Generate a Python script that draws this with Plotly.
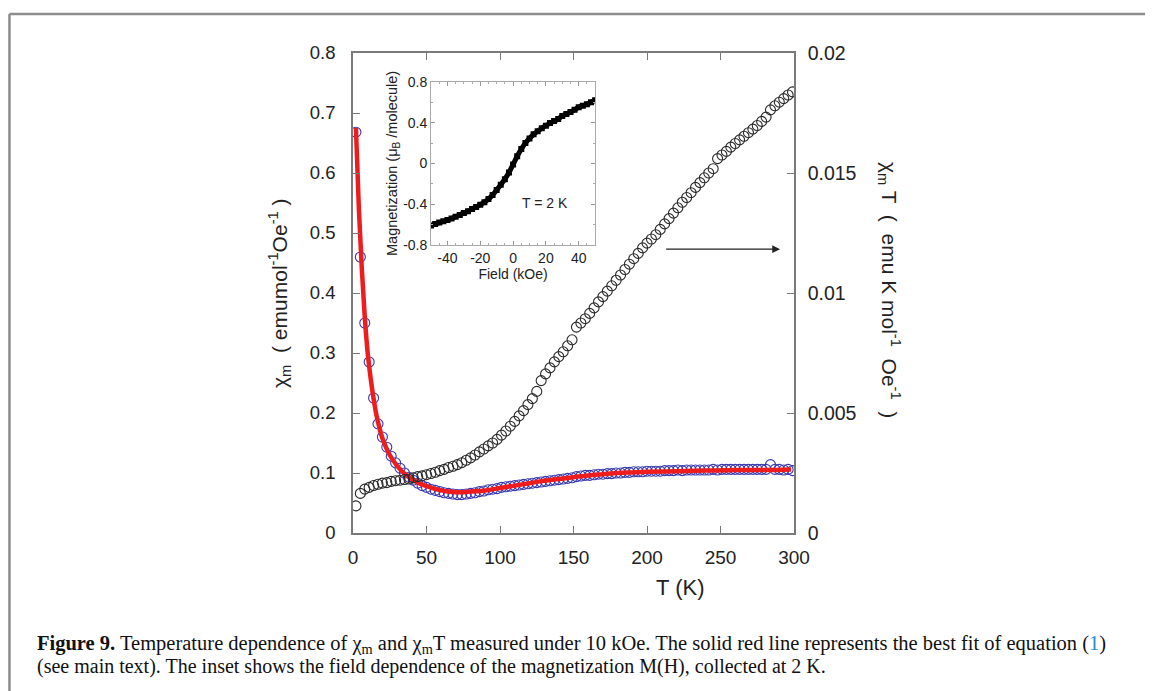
import plotly.graph_objects as go

# ---------------- data ----------------
T = [2, 5, 8, 11, 14, 17, 20, 23, 26, 29, 32, 35, 38, 41, 44, 47, 50, 53, 56, 59,
     62, 65, 68, 71, 74, 77, 80, 83, 86, 89, 92, 95, 98, 101, 104, 107, 110, 113, 116, 119,
     122, 125, 128, 131, 134, 137, 140, 143, 146, 149, 152, 155, 158, 161, 164, 167, 170, 173, 176, 179,
     182, 185, 188, 191, 194, 197, 200, 203, 206, 209, 212, 215, 218, 221, 224, 227, 230, 233, 236, 239,
     242, 245, 248, 251, 254, 257, 260, 263, 266, 269, 272, 275, 278, 281, 284, 287, 290, 293, 296, 299]

chi_m = [0.668, 0.46, 0.35, 0.285, 0.225, 0.182, 0.16, 0.143, 0.128, 0.117, 0.108, 0.1, 0.093, 0.088, 0.083, 0.079, 0.076, 0.073, 0.071, 0.069,
         0.067, 0.066, 0.065, 0.064, 0.064, 0.065, 0.066, 0.067, 0.069, 0.07, 0.072, 0.073, 0.074, 0.076, 0.077, 0.078, 0.079, 0.08, 0.081, 0.082,
         0.083, 0.084, 0.085, 0.086, 0.087, 0.088, 0.089, 0.09, 0.091, 0.092, 0.094, 0.095, 0.096, 0.096, 0.097, 0.098, 0.098, 0.099, 0.099, 0.1,
         0.1, 0.101, 0.101, 0.102, 0.102, 0.102, 0.103, 0.103, 0.103, 0.103, 0.104, 0.104, 0.104, 0.105, 0.104, 0.105, 0.105, 0.105, 0.105, 0.105,
         0.105, 0.106, 0.105, 0.106, 0.106, 0.106, 0.106, 0.106, 0.106, 0.106, 0.106, 0.106, 0.106, 0.106, 0.114, 0.106, 0.106, 0.105, 0.106, 0.104]

chi_mT = [0.00113, 0.00165, 0.00183, 0.0019, 0.00198, 0.00203, 0.00208, 0.0021, 0.00215, 0.00218, 0.0022, 0.00223, 0.00225, 0.0023, 0.00235, 0.00238, 0.00243, 0.00248, 0.00253, 0.0026,
          0.00265, 0.00273, 0.00278, 0.00285, 0.00293, 0.00303, 0.00313, 0.00325, 0.00338, 0.0035, 0.00363, 0.00375, 0.0039, 0.00408, 0.00425, 0.00445, 0.00465, 0.00488, 0.0051, 0.00535,
          0.0056, 0.0059, 0.00635, 0.00663, 0.00688, 0.00713, 0.00735, 0.00755, 0.0078, 0.00805, 0.00858, 0.00875, 0.00893, 0.00915, 0.00938, 0.00963, 0.00985, 0.01008, 0.0103, 0.01053,
          0.01075, 0.01098, 0.0112, 0.01143, 0.01165, 0.01188, 0.01208, 0.01225, 0.01243, 0.01265, 0.01288, 0.0131, 0.01333, 0.01355, 0.01378, 0.01398, 0.01418, 0.0144, 0.0146, 0.0148,
          0.015, 0.01518, 0.0156, 0.01575, 0.0159, 0.01608, 0.01623, 0.01638, 0.01653, 0.01668, 0.01683, 0.01698, 0.01715, 0.01733, 0.01763, 0.0178, 0.01795, 0.0181, 0.01825, 0.01838]

T_fit = [2, 4, 6, 8, 10, 12, 14, 16, 18, 20, 25, 30, 35, 40, 45, 50, 55, 60, 65, 70,
         75, 80, 90, 100, 110, 120, 130, 140, 150, 160, 170, 180, 190, 200, 220, 240, 260, 280, 298]
chi_fit = [0.675, 0.54, 0.44, 0.36, 0.3, 0.258, 0.224, 0.196, 0.175, 0.158, 0.13, 0.112, 0.099, 0.09, 0.083, 0.078, 0.074, 0.071, 0.069, 0.068,
           0.068, 0.069, 0.071, 0.075, 0.079, 0.083, 0.087, 0.09, 0.093, 0.096, 0.098, 0.1, 0.101, 0.102, 0.103, 0.104, 0.105, 0.105, 0.106]

H_inset = [-50, -47.5, -45, -42.5, -40, -37.5, -35, -32.5, -30, -27.5, -25, -22.5, -20, -17.5, -15, -12.5, -10, -7.5, -5, -2.5,
           0, 2.5, 5, 7.5, 10, 12.5, 15, 17.5, 20, 22.5, 25, 27.5, 30, 32.5, 35, 37.5, 40, 42.5, 45, 47.5, 50]
M_inset = [-0.61, -0.595, -0.58, -0.568, -0.555, -0.54, -0.522, -0.505, -0.487, -0.468, -0.448, -0.427, -0.405, -0.38, -0.35, -0.31, -0.26, -0.21, -0.155, -0.09,
           -0.01, 0.07, 0.14, 0.2, 0.245, 0.285, 0.315, 0.345, 0.37, 0.395, 0.415, 0.435, 0.465, 0.485, 0.505, 0.525, 0.55, 0.565, 0.58, 0.6, 0.62]

y_left_ticks = [0, 0.1, 0.2, 0.3, 0.4, 0.5, 0.6, 0.7, 0.8]
y_right_ticks = [0, 0.005, 0.01, 0.015, 0.02]
y_right_labels = ["0", "0.005", "0.01", "0.015", "0.02"]
x_ticks = [0, 50, 100, 150, 200, 250, 300]
inset_x_ticks = [-40, -20, 0, 20, 40]
inset_x_labels = ["-40", "-20", "0", "20", "40"]
inset_y_ticks = [-0.8, -0.4, 0, 0.4, 0.8]
inset_y_labels = ["-0.8", "-0.4", "0", "0.4", "0.8"]

SANS = "Liberation Sans, Arial, sans-serif"
SERIF = "Liberation Serif, Times New Roman, serif"
AX = "#7a7a7a"

fig = go.Figure()

fig.add_trace(go.Scatter(x=T, y=chi_mT, yaxis="y2", mode="markers",
                         marker=dict(symbol="circle-open", size=10, color="#2a2a2a", line=dict(width=1.1)),
                         showlegend=False))
fig.add_trace(go.Scatter(x=T, y=chi_m, mode="markers",
                         marker=dict(symbol="circle-open", size=10, color="#3838b0", line=dict(width=1.1)),
                         showlegend=False))
fig.add_trace(go.Scatter(x=T_fit, y=chi_fit, mode="lines", line=dict(color="#ee1c1c", width=4.5, shape="spline"),
                         showlegend=False))

fig.add_trace(go.Scatter(x=H_inset, y=M_inset, xaxis="x2", yaxis="y3", mode="lines+markers",
                         line=dict(color="black", width=5, shape="spline"),
                         marker=dict(symbol="square", size=6, color="black"),
                         showlegend=False))

fig.update_layout(
    width=1145, height=683,
    margin=dict(l=345, r=359, t=45, b=158),
    paper_bgcolor="white", plot_bgcolor="white",
    font=dict(family=SANS, size=18, color="#222"),
    xaxis=dict(range=[0, 300], tickvals=x_ticks, ticks="inside", ticklen=7, tickcolor=AX,
               showline=True, linecolor=AX, linewidth=1.5, mirror="ticks",
               showgrid=False, zeroline=False, ticklabelstandoff=6,
               tickfont=dict(size=19, family=SANS)),
    yaxis=dict(range=[0, 0.8], tickvals=y_left_ticks, ticks="inside", ticklen=7, tickcolor=AX,
               showline=True, linecolor=AX, linewidth=1.5,
               showgrid=False, zeroline=False, ticklabelstandoff=12,
               tickfont=dict(size=18.5, family=SANS)),
    yaxis2=dict(range=[0, 0.02], tickvals=y_right_ticks, ticktext=y_right_labels, overlaying="y", side="right",
                ticks="inside", ticklen=7, tickcolor=AX,
                showline=True, linecolor=AX, linewidth=1.5,
                showgrid=False, zeroline=False, ticklabelstandoff=8,
                tickfont=dict(size=19.5, family=SANS)),
    xaxis2=dict(domain=[0.177, 0.549], anchor="y3", range=[-50, 50], tickvals=inset_x_ticks, ticktext=inset_x_labels,
                ticks="inside", ticklen=4, tickcolor="#999", showline=True, linecolor="#aaa", linewidth=1,
                mirror="allticks", showgrid=False, zeroline=False,
                minor=dict(ticks="inside", ticklen=2, dtick=5, tickcolor="#aaa"),
                tickfont=dict(size=14, family=SANS),
                title=dict(text="Field (kOe)", font=dict(size=14, family=SANS), standoff=0)),
    yaxis3=dict(domain=[0.6, 0.94], anchor="x2", range=[-0.8, 0.8], tickvals=inset_y_ticks, ticktext=inset_y_labels,
                ticks="inside", ticklen=4, tickcolor="#999", showline=True, linecolor="#aaa", linewidth=1,
                mirror="allticks", showgrid=False, zeroline=False,
                minor=dict(ticks="inside", ticklen=2, dtick=0.2, tickcolor="#aaa"),
                tickfont=dict(size=14, family=SANS),
                title=dict(text="Magnetization (μ<sub>B</sub> /molecule)", font=dict(size=14.5, family=SANS), standoff=2)),
)

annotations = [
    dict(text="χ<sub>m</sub>  ( emumol<sup>-1</sup>Oe<sup>-1</sup> )", x=-0.168, y=0.5, xref="paper", yref="paper",
         xanchor="center", yanchor="middle",
         textangle=-90, showarrow=False, font=dict(size=21, family=SANS, color="#222")),
    dict(text="χ<sub>m</sub> T  (  emu K mol<sup>-1</sup>  Oe<sup>-1</sup>  )", x=1.218, y=0.506, xref="paper", yref="paper",
         xanchor="center", yanchor="middle",
         textangle=90, showarrow=False, font=dict(size=21, family=SANS, color="#222")),
    dict(text="T (K)", x=0.741, y=-0.1125, xref="paper", yref="paper", showarrow=False,
         xanchor="center", yanchor="middle",
         font=dict(size=22, family=SANS, color="#222")),
    dict(text="T = 2 K", x=19.5, y=-0.39, xref="x2", yref="y3", showarrow=False,
         xanchor="center", yanchor="middle",
         font=dict(size=14, family=SANS, color="#222")),
    dict(x=290.5, y=0.473, ax=212, ay=0.473, xref="x", yref="y", axref="x", ayref="y",
         showarrow=True, arrowhead=2, arrowsize=1.3, arrowwidth=1.2, arrowcolor="#222", text=""),
    dict(text="<b>Figure 9.</b> Temperature dependence of χ<sub>m</sub> and χ<sub>m</sub>T measured under 10 kOe. "
              "The solid red line represents the best fit of equation (<span style='color:#2a8ac8'>1</span>)",
         x=-0.721, y=-0.233, xref="paper", yref="paper", xanchor="left", yanchor="middle", showarrow=False,
         font=dict(size=20.5, family=SERIF, color="#111")),
    dict(text="(see main text). The inset shows the field dependence of the magnetization M(H), collected at 2 K.",
         x=-0.721, y=-0.279, xref="paper", yref="paper", xanchor="left", yanchor="middle", showarrow=False,
         font=dict(size=20, family=SERIF, color="#111")),
]
fig.update_layout(annotations=annotations)

# page frame lines (top and left)
fig.add_shape(type="line", xref="paper", yref="paper", x0=-0.779, x1=1.83, y0=1.081, y1=1.081,
              line=dict(color="#8c8c8c", width=2.5))
fig.add_shape(type="line", xref="paper", yref="paper", x0=-0.779, x1=-0.779, y0=1.081, y1=-0.35,
              line=dict(color="#8c8c8c", width=2.5))

fig.write_html("out.html")
